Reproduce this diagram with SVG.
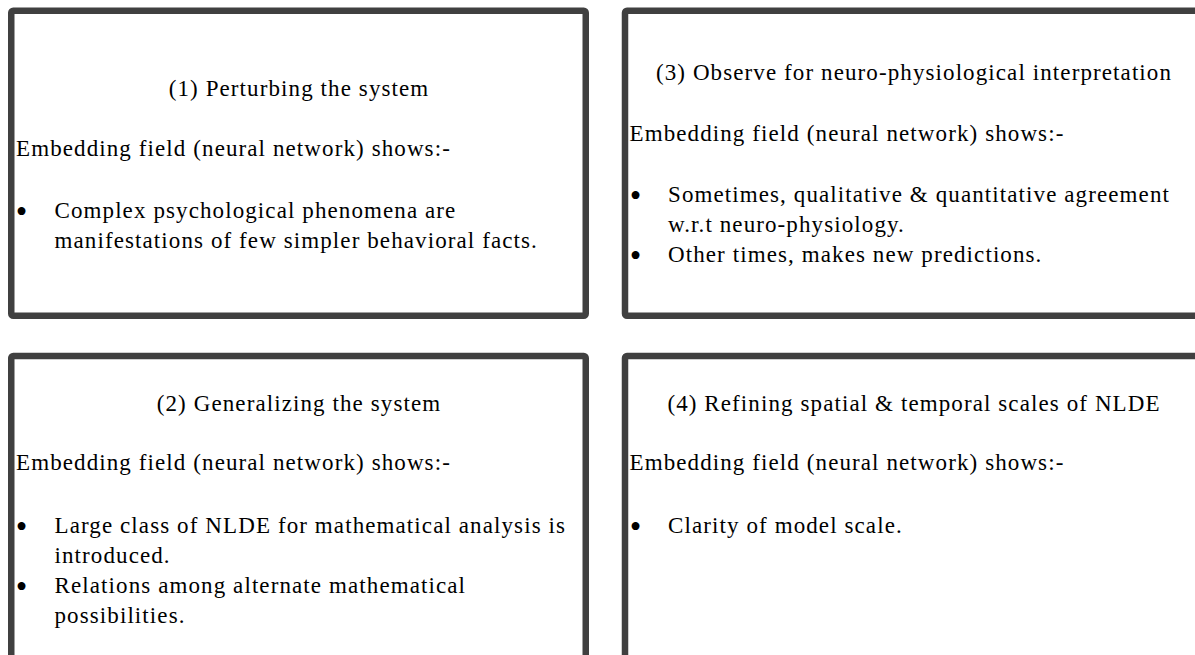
<svg xmlns="http://www.w3.org/2000/svg" width="1195" height="655" viewBox="0 0 1195 655">
<style>
.box{fill:#ffffff;stroke:#404040;stroke-width:6.5}
.t{font-family:"Liberation Serif","Times New Roman",serif;font-size:23px;letter-spacing:1.1px;fill:#000000}
.c{text-anchor:middle}
.b{font-family:"Liberation Serif","Times New Roman",serif;font-size:33px;text-anchor:middle;fill:#000000}
</style>
<rect x="0" y="0" width="1195" height="655" fill="#ffffff"/>
<g id="box1">
<rect class="box" x="11.25" y="10.75" width="574.5" height="305" rx="2"/>
<text class="t c" x="299" y="96">(1) Perturbing the system</text>
<text class="t" x="16" y="156">Embedding field (neural network) shows:-</text>
<text class="b" x="21.5" y="222.7">•</text>
<text class="t" x="54.5" y="218">Complex psychological phenomena are</text>
<text class="t" x="54.5" y="248">manifestations of few simpler behavioral facts.</text>
</g>
<g id="box3">
<rect class="box" x="625" y="10.75" width="574.5" height="305" rx="2"/>
<text class="t c" x="914" y="80">(3) Observe for neuro-physiological interpretation</text>
<text class="t" x="629.5" y="141">Embedding field (neural network) shows:-</text>
<text class="b" x="635.5" y="206.7">•</text>
<text class="t" x="668" y="202">Sometimes, qualitative &amp; quantitative agreement</text>
<text class="t" x="668" y="232">w.r.t neuro-physiology.</text>
<text class="b" x="635.5" y="266.7">•</text>
<text class="t" x="668" y="262">Other times, makes new predictions.</text>
</g>
<g id="box2">
<rect class="box" x="11.25" y="356" width="574.5" height="400" rx="2"/>
<text class="t c" x="299" y="411">(2) Generalizing the system</text>
<text class="t" x="16" y="470">Embedding field (neural network) shows:-</text>
<text class="b" x="21.5" y="537.7">•</text>
<text class="t" x="54.5" y="533">Large class of NLDE for mathematical analysis is</text>
<text class="t" x="54.5" y="563">introduced.</text>
<text class="b" x="21.5" y="597.7">•</text>
<text class="t" x="54.5" y="593">Relations among alternate mathematical</text>
<text class="t" x="54.5" y="623">possibilities.</text>
</g>
<g id="box4">
<rect class="box" x="625" y="356" width="574.5" height="400" rx="2"/>
<text class="t c" x="914" y="411">(4) Refining spatial &amp; temporal scales of NLDE</text>
<text class="t" x="629.5" y="470">Embedding field (neural network) shows:-</text>
<text class="b" x="635.5" y="537.7">•</text>
<text class="t" x="668" y="533">Clarity of model scale.</text>
</g>
<g id="connectors"/>
</svg>
